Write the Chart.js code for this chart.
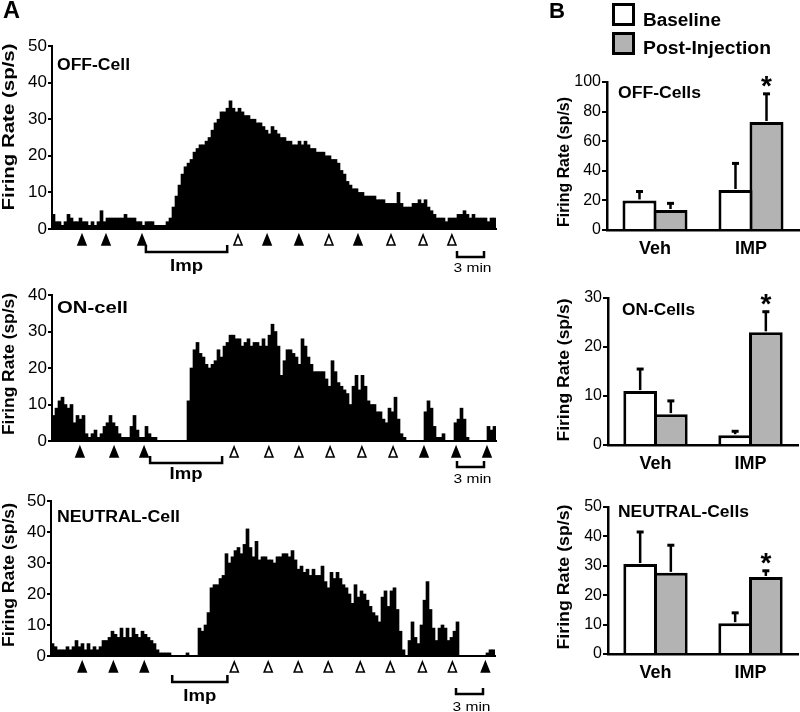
<!DOCTYPE html>
<html><head><meta charset="utf-8">
<script src="https://cdn.jsdelivr.net/npm/chart.js@4.4.0/dist/chart.umd.min.js"></script>
<style>
html,body{margin:0;padding:0;background:#fff;}
#wrap{position:relative;width:800px;height:712px;overflow:hidden;background:#fff;}
canvas{position:absolute;left:0;top:0;}
</style></head><body><div id="wrap">
<canvas id="c1" width="800" height="712"></canvas>
<canvas id="c2" width="800" height="712"></canvas>
<canvas id="c3" width="800" height="712"></canvas>
<canvas id="c4" width="800" height="712"></canvas>
<canvas id="c5" width="800" height="712"></canvas>
<canvas id="c6" width="800" height="712"></canvas>
</div>
<script>
// ---------- Panel A: firing-rate histograms (20 s bins) ----------
const offCell = [4,2,2,1,2,4,3,2,2,3, 2,2,1,2,1,2,5,2,3,3, 3,3,3,3,4,3,3,3,2,2, 1,2,2,2,1,1,1,1,2,3,
  6,9,12,15,17,18,19,21,22,23, 23,24,25,27,29,30,32,32,33,35, 33,32,33,32,31,31,30,30,29,29,
  28,27,26,28,27,26,25,25,24,24, 23,23,24,23,24,23,22,22,21,21, 21,20,20,19,19,18,16,15,13,12,
  11,11,10,10,9,9,9,9,8,8, 8,7,7,7,7,10,7,6,6,6, 7,7,8,7,8,6,5,4,3,3, 3,2,3,3,3,4,4,5,4,3, 4,3,3,3,3,2,3,3];
const onCell = [7,9,11,12,10,9,10,5,7,6, 7,2,1,2,3,1,2,4,5,7, 5,4,2,1,1,1,4,7,3,1, 1,4,2,1,1,0,0,0,0,0,
  0,0,0,0,0,11,20,25,27,24, 23,21,20,21,22,25,23,26,27,29, 29,28,28,26,27,28,26,27,27,26,
  28,26,29,32,30,26,18,22,25,25, 24,23,21,28,26,23,21,19,19,19, 19,17,15,22,19,16,15,14,13,10,
  15,18,14,18,15,11,10,10,8,8, 6,5,9,8,12,6,2,1,0,0, 0,0,0,0,8,11,9,4,1,1, 2,0,0,0,5,6,9,6,1,0, 0,0,0,0,0,4,3,4];
const neutralCell = [4,3,2,2,2,3,2,3,5,3, 4,2,4,2,3,2,3,5,5,6, 8,7,6,9,6,9,6,9,7,6, 8,7,6,5,4,2,1,1,1,1,
  0,0,0,0,0,1,0,0,0,9, 8,10,14,22,23,23,25,26,33,30, 32,34,35,33,36,41,35,32,37,31,
  32,32,31,31,30,32,32,33,33,32, 34,31,28,29,27,28,26,28,26,26, 29,24,22,27,25,27,25,23,22,20,
  17,23,19,21,20,18,16,14,13,11, 19,21,16,21,22,15,8,2,0,5, 11,6,4,10,18,24,15,9,5,9, 10,9,5,6,8,11,0,0,0,0, 0,0,0,0,0,1,2,2];
const offTicks = [0,10,20,30,40,50];
const onTicks = [0,10,20,30,40];
const neutralTicks = [0,10,20,30,40,50];
// stimulus times (in bins) and whether the marker is filled
const offStims = [10,18,30,62,71.7,82.3,92.3,102,113,123.7,133.3];
const offStimFilled = [1,1,1,0,1,1,0,1,0,0,0];
const onStims = [9.3,20.7,30.7,60.7,72.3,82.3,92.7,103.3,113.7,124,134.7,145];
const onStimFilled = [1,1,1,0,0,0,0,0,0,1,1,1];
const neutralStims = [10.4,20.8,31.1,61.1,72.4,82.4,92.4,103.1,113.1,123.8,133.8,144.8];
const neutralStimFilled = [1,1,1,0,0,0,0,0,0,0,0,1];
const offImp = [31.3,58.4], onImp = [32.7,56.7], neutralImp = [40.4,58.8];
const scaleBarStart = 135, scaleBarBins = 9; // 9 bins = 3 min

// ---------- Panel B: group means ----------
const groups = ['Veh','IMP'];
const seriesNames = ['Baseline','Post-Injection'];
const offBase = [20,27], offBaseErr = [6,18], offPost = [13.5,73], offPostErr = [4.5,19], offSig = [false,true];
const onBase = [11,2], onBaseErr = [4.5,0.8], onPost = [6.3,23], onPostErr = [2.7,4.2], onSig = [false,true];
const neuBase = [30.6,10.5], neuBaseErr = [10.9,3.5], neuPost = [27.6,26.2], neuPostErr = [9.4,2.1], neuSig = [false,true];
const offBarTicks = [0,20,40,60,80,100];
const onBarTicks = [0,10,20,30];
const neuBarTicks = [0,10,20,30,40,50];

const FONT = '"Liberation Sans", Arial, Helvetica, sans-serif';
const GRAY = '#b3b3b3';

function txt(ctx, s, x, y, o) {
  ctx.save();
  ctx.font = (o.bold ? 'bold ' : '') + o.size + 'px ' + FONT;
  ctx.fillStyle = '#000';
  ctx.textAlign = o.align || 'left';
  ctx.textBaseline = o.baseline || 'alphabetic';
  ctx.translate(x, y);
  if (o.rot) ctx.rotate(-Math.PI / 2);
  if (o.w) { const m = ctx.measureText(s).width; ctx.scale(o.w / m, 1); }
  ctx.fillText(s, 0, 0);
  ctx.restore();
}
function tri(ctx, x, y, filled) {
  ctx.beginPath();
  ctx.moveTo(x, y - 5); ctx.lineTo(x + 4, y + 5); ctx.lineTo(x - 4, y + 5); ctx.closePath();
  ctx.fillStyle = filled ? '#000' : '#fff'; ctx.fill();
  ctx.lineWidth = 1.6; ctx.strokeStyle = '#000'; ctx.lineJoin = 'miter'; ctx.stroke();
}

function histChart(id, values, ticks, stims, filled, imp, L) {
  new Chart(document.getElementById(id), {
    type: 'bar',
    data: { labels: values.map((v, i) => i),
      datasets: [{ data: values, backgroundColor: '#000', borderWidth: 0, barPercentage: 1, categoryPercentage: 1 }] },
    options: {
      responsive: false, animation: false, devicePixelRatio: 1,
      layout: { padding: { left: 0, top: L.top, right: 800 - L.right, bottom: 712 - L.bottom - 10 } },
      plugins: { legend: { display: false }, tooltip: { enabled: false } },
      scales: {
        x: { grid: { display: false }, ticks: { display: false },
             border: { display: true, color: '#000', width: 2 }, afterFit: s => { s.height = 10; } },
        y: { min: ticks[0], max: ticks[ticks.length - 1],
             ticks: { stepSize: ticks[1] - ticks[0], color: '#000', padding: 1, font: { family: FONT, size: 17 } },
             grid: { display: true, drawOnChartArea: false, drawTicks: true, tickLength: 4, color: '#000', lineWidth: 2 },
             border: { display: true, color: '#000', width: 2 }, afterFit: s => { s.width = L.left; } }
      }
    },
    plugins: [{ id: 'ann' + id, afterDraw(chart) {
      const ctx = chart.ctx, xs = chart.scales.x, ca = chart.chartArea;
      const px = p => xs.getPixelForValue(p - 0.5);
      ctx.save();
      if (L.letter) txt(ctx, L.letter, 3, 18, { size: 24, bold: true, w: 17 });
      txt(ctx, 'Firing Rate (sp/s)', L.titleX, L.titleY, { size: 16, bold: true, rot: true, w: L.titleLen, align: 'center', baseline: 'middle' });
      txt(ctx, L.label, L.labelX, L.labelY, { size: L.labelSize, bold: true, w: L.labelW });
      stims.forEach((p, i) => tri(ctx, px(p), ca.bottom + L.triDy, filled[i]));
      ctx.strokeStyle = '#000'; ctx.lineWidth = 2.5; ctx.lineCap = 'butt'; ctx.lineJoin = 'miter';
      const a0 = px(imp[0]), a1 = px(imp[1]), yb = ca.bottom + L.brDy;
      ctx.beginPath(); ctx.moveTo(a0, yb - 7); ctx.lineTo(a0, yb); ctx.lineTo(a1, yb); ctx.lineTo(a1, yb - 7); ctx.stroke();
      txt(ctx, 'Imp', (a0 + a1) / 2, ca.bottom + L.impDy, { size: 17, bold: true, w: 33, align: 'center' });
      const s0 = px(scaleBarStart), s1 = px(scaleBarStart + scaleBarBins), sy = ca.bottom + L.sbDy;
      ctx.beginPath(); ctx.moveTo(s0, sy - 6); ctx.lineTo(s0, sy); ctx.lineTo(s1, sy); ctx.lineTo(s1, sy - 6); ctx.stroke();
      txt(ctx, '3 min', (s0 + s1) / 2 + 2, ca.bottom + L.sbTxtDy, { size: 13, w: 38, align: 'center' });
      ctx.restore();
    } }]
  });
}

function barChart(id, base, baseErr, post, postErr, sig, ticks, L) {
  new Chart(document.getElementById(id), {
    type: 'bar',
    data: { labels: groups, datasets: [
      { label: seriesNames[0], data: base, backgroundColor: '#fff', borderColor: '#000', borderWidth: 3,
        categoryPercentage: 0.646, barPercentage: 1.097 },
      { label: seriesNames[1], data: post, backgroundColor: GRAY, borderColor: '#000', borderWidth: 3,
        categoryPercentage: 0.646, barPercentage: 1.097 }] },
    options: {
      responsive: false, animation: false, devicePixelRatio: 1,
      layout: { padding: { left: 540, top: L.top, right: 800 - L.right, bottom: 712 - L.bottom - 32 } },
      plugins: { legend: { display: false }, tooltip: { enabled: false } },
      scales: {
        x: { grid: { display: false, drawTicks: false }, border: { display: true, color: '#000', width: 2.5 },
             ticks: { color: '#000', padding: 8, font: { family: FONT, size: 18, weight: 'bold' } },
             afterFit: s => { s.height = 32; } },
        y: { min: ticks[0], max: ticks[ticks.length - 1],
             ticks: { stepSize: ticks[1] - ticks[0], color: '#000', padding: 1, font: { family: FONT, size: 16 } },
             grid: { display: true, drawOnChartArea: false, drawTicks: true, tickLength: 5, color: '#000', lineWidth: 2 },
             border: { display: true, color: '#000', width: 2.5 }, afterFit: s => { s.width = L.left - 540; } }
      }
    },
    plugins: [{ id: 'err' + id,
      afterDatasetsDraw(chart) {
        const ctx = chart.ctx, ys = chart.scales.y;
        const errs = [baseErr, postErr];
        ctx.save(); ctx.strokeStyle = '#000'; ctx.lineCap = 'butt';
        chart.data.datasets.forEach((ds, di) => {
          chart.getDatasetMeta(di).data.forEach((bar, i) => {
            const y0 = ys.getPixelForValue(ds.data[i]), y1 = ys.getPixelForValue(ds.data[i] + errs[di][i]);
            ctx.lineWidth = 2.5;
            ctx.beginPath(); ctx.moveTo(bar.x, y0 - 1); ctx.lineTo(bar.x, y1); ctx.stroke();
            ctx.lineWidth = 3;
            ctx.beginPath(); ctx.moveTo(bar.x - 3.5, y1); ctx.lineTo(bar.x + 3.5, y1); ctx.stroke();
          });
        });
        chart.getDatasetMeta(1).data.forEach((bar, i) => {
          if (sig[i]) txt(ctx, '*', bar.x, ys.getPixelForValue(post[i] + postErr[i]) + 1, { size: 28, bold: true, align: 'center' });
        });
        ctx.restore();
      },
      afterDraw(chart) {
        const ctx = chart.ctx;
        ctx.save();
        txt(ctx, 'Firing Rate (sp/s)', L.titleX, L.titleY, { size: 16, bold: true, rot: true, w: L.titleLen, align: 'center', baseline: 'middle' });
        txt(ctx, L.label, L.labelX, L.labelY, { size: 16, bold: true, w: L.labelW });
        if (L.legend) {
          txt(ctx, 'B', 549, 18, { size: 22, bold: true, w: 16 });
          const ds = chart.data.datasets;
          const boxes = [[612, 3, 26], [612, 32, 54]];
          const widths = [78, 128];
          ds.forEach((d, i) => {
            const [bx, by, ty] = boxes[i];
            ctx.fillStyle = d.backgroundColor; ctx.fillRect(bx, by, 23, 23);
            ctx.lineWidth = 3; ctx.strokeStyle = '#000'; ctx.strokeRect(bx + 1.5, by + 1.5, 20, 20);
            txt(ctx, d.label, 643, ty, { size: 18, bold: true, w: widths[i] });
          });
        }
        ctx.restore();
      } }]
  });
}

histChart('c1', offCell, offTicks, offStims, offStimFilled, offImp,
  { left: 52, right: 496, top: 46, bottom: 229, letter: 'A', titleX: 10, titleY: 127, titleLen: 167,
    label: 'OFF-Cell', labelX: 57, labelY: 70, labelSize: 16, labelW: 73,
    triDy: 11, brDy: 23, impDy: 42, sbDy: 28, sbTxtDy: 43 });
histChart('c2', onCell, onTicks, onStims, onStimFilled, onImp,
  { left: 52, right: 496, top: 295, bottom: 441, titleX: 10, titleY: 364, titleLen: 142,
    label: 'ON-cell', labelX: 57, labelY: 313, labelSize: 17, labelW: 71,
    triDy: 11, brDy: 22, impDy: 38, sbDy: 26, sbTxtDy: 42 });
histChart('c3', neutralCell, neutralTicks, neutralStims, neutralStimFilled, neutralImp,
  { left: 51, right: 495, top: 501, bottom: 656, titleX: 10, titleY: 575, titleLen: 144,
    label: 'NEUTRAL-Cell', labelX: 57, labelY: 522, labelSize: 16, labelW: 123,
    triDy: 11, brDy: 26, impDy: 45, sbDy: 38, sbTxtDy: 55 });

barChart('c4', offBase, offBaseErr, offPost, offPostErr, offSig, offBarTicks,
  { left: 607, right: 799, top: 82, bottom: 230, titleX: 565, titleY: 162, titleLen: 130,
    label: 'OFF-Cells', labelX: 618, labelY: 98, labelW: 83, legend: true });
barChart('c5', onBase, onBaseErr, onPost, onPostErr, onSig, onBarTicks,
  { left: 608, right: 798, top: 298, bottom: 445, titleX: 565, titleY: 370, titleLen: 143,
    label: 'ON-Cells', labelX: 622, labelY: 315, labelW: 73 });
barChart('c6', neuBase, neuBaseErr, neuPost, neuPostErr, neuSig, neuBarTicks,
  { left: 608, right: 798, top: 507, bottom: 654, titleX: 565, titleY: 577, titleLen: 145,
    label: 'NEUTRAL-Cells', labelX: 618, labelY: 517, labelW: 131 });
</script>
</body></html>
